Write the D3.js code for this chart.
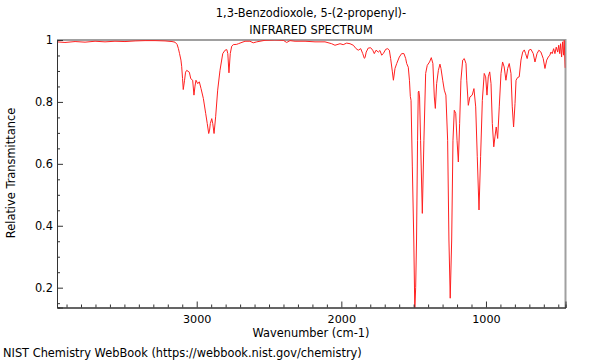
<!DOCTYPE html>
<html><head><meta charset="utf-8">
<script src="https://cdn.jsdelivr.net/npm/d3@7"></script>
<style>body{margin:0;background:#fff}svg{display:block;font-family:"DejaVu Sans",sans-serif}</style>
</head><body>
<svg id="c" width="600" height="360"></svg>
<script>
const titleLines = ["1,3-Benzodioxole, 5-(2-propenyl)-", "INFRARED SPECTRUM"];
const xLabel = "Wavenumber (cm-1)";
const yLabel = "Relative Transmittance";
const footer = "NIST Chemistry WebBook (https://webbook.nist.gov/chemistry)";
const xTicks = [3000, 2000, 1000];
const yTicks = [0.2, 0.4, 0.6, 0.8, 1];

const wavenumber = [3966,3911,3841,3772,3703,3634,3565,3496,3426,3357,3288,3219,3171,3150,3136,3127,3119,3109,3104,3098,3093,3084,3077,3069,3060,3051,3041,3028,3019,3012,3005,2993,2982,2970,2954,2938,2927,2917,2911,2906,2896,2889,2880,2869,2855,2839,2820,2804,2792,2785,2777,2768,2758,2747,2723,2712,2666,2632,2609,2585,2528,2459,2401,2378,2355,2320,2251,2182,2113,2067,2044,2009,1987,1963,1940,1917,1898,1883,1866,1852,1841,1836,1828,1814,1797,1783,1772,1760,1744,1733,1721,1710,1693,1679,1668,1659,1647,1640,1629,1617,1599,1583,1567,1555,1548,1537,1529,1523,1518,1509,1499,1492,1486,1480,1473,1468,1464,1459,1452,1440,1429,1417,1406,1390,1378,1367,1357,1350,1341,1329,1318,1311,1299,1288,1277,1265,1256,1247,1237,1228,1219,1209,1200,1191,1182,1173,1161,1150,1138,1133,1122,1111,1095,1083,1071,1060,1048,1037,1025,1012,1002,993,984,974,965,956,946,938,929,919,908,896,885,874,862,850,839,827,818,809,799,792,781,770,758,746,735,726,715,703,689,673,661,647,634,620,604,592,580,569,558,551,542,532,523,514,504,497,490,484,477,470,463,459,452];
const transmittance = [0.994,0.992,0.995,0.993,0.996,0.994,0.996,0.995,0.997,0.998,0.998,0.997,0.995,0.993,0.986,0.973,0.957,0.935,0.915,0.876,0.840,0.870,0.896,0.902,0.899,0.896,0.875,0.870,0.822,0.851,0.870,0.859,0.865,0.843,0.811,0.763,0.730,0.698,0.709,0.730,0.746,0.730,0.698,0.752,0.838,0.902,0.956,0.967,0.969,0.956,0.894,0.956,0.980,0.985,0.986,0.988,0.996,0.996,0.991,0.994,0.999,1.0,0.999,0.992,0.998,0.996,0.996,0.994,0.994,0.988,0.983,0.988,0.985,0.990,0.988,0.983,0.972,0.967,0.972,0.956,0.941,0.943,0.961,0.974,0.975,0.967,0.956,0.967,0.961,0.966,0.951,0.956,0.970,0.972,0.967,0.940,0.897,0.870,0.908,0.924,0.945,0.956,0.956,0.940,0.924,0.912,0.870,0.818,0.805,0.590,0.354,0.128,0.200,0.354,0.676,0.832,0.835,0.816,0.676,0.440,0.676,0.892,0.918,0.929,0.943,0.924,0.816,0.779,0.859,0.902,0.922,0.908,0.870,0.838,0.822,0.676,0.354,0.166,0.354,0.676,0.773,0.763,0.676,0.606,0.730,0.870,0.935,0.940,0.924,0.870,0.789,0.816,0.822,0.843,0.784,0.623,0.451,0.623,0.805,0.892,0.881,0.822,0.881,0.897,0.859,0.730,0.655,0.687,0.719,0.682,0.784,0.892,0.929,0.913,0.870,0.908,0.924,0.892,0.784,0.719,0.795,0.870,0.879,0.881,0.935,0.961,0.968,0.956,0.940,0.967,0.970,0.956,0.929,0.956,0.967,0.961,0.940,0.908,0.935,0.945,0.951,0.961,0.956,0.972,0.956,0.977,0.961,0.983,0.956,0.988,0.945,0.994,0.951,0.999,0.910];

const svg = d3.select("#c");
const m = {l:57, r:565.5, t:40, b:307.5};
const x = d3.scaleLinear().domain([3966, 450]).range([m.l, m.r]);
const y = d3.scaleLinear().domain([0.136, 1]).range([m.b, m.t]);
const fs = 11.4;

svg.append("defs").append("clipPath").attr("id","clip").append("rect")
  .attr("x", m.l).attr("y", m.t).attr("width", m.r - m.l).attr("height", m.b - m.t);

// gray top/right border
svg.append("path").attr("d", `M${m.l},${m.t}H${m.r}V${m.b}`).attr("fill","none")
  .attr("stroke","#a0a0a0").attr("stroke-width",2);

// data line
const pts = wavenumber.map((w,i)=>[w, transmittance[i]]);
svg.append("path").datum(pts).attr("clip-path","url(#clip)")
  .attr("fill","none").attr("stroke","#ff2020").attr("stroke-width",1)
  .attr("d", d3.line().x(d=>x(d[0])).y(d=>y(d[1])));

// bottom axis
const minorX = d3.range(3900, 449, -100).filter(v => !xTicks.includes(v));
const gx = svg.append("g").attr("transform", `translate(0,${m.b})`);
gx.call(d3.axisBottom(x).tickValues(minorX).tickSize(-3).tickFormat(""));
gx.append("g").call(d3.axisBottom(x).tickValues(xTicks).tickSize(-6).tickFormat(d3.format("d")));
gx.selectAll(".domain").attr("stroke","#333");
gx.selectAll("line").attr("stroke","#333");
gx.selectAll("text").attr("y", 8).attr("dy","0.71em").attr("font-size",11.2).attr("fill","#000")
  .attr("font-family","DejaVu Sans");

// left axis
const minorY = d3.range(0.15, 1.0001, 0.05).map(v=>+v.toFixed(2)).filter(v => !yTicks.some(t=>Math.abs(t-v)<1e-6));
const gy = svg.append("g").attr("transform", `translate(${m.l},0)`);
gy.call(d3.axisLeft(y).tickValues(minorY).tickSize(-3).tickFormat(""));
gy.append("g").call(d3.axisLeft(y).tickValues(yTicks).tickSize(-6).tickFormat(d=>d===1?"1":d3.format(".1f")(d)));
gy.selectAll(".domain").attr("stroke","#333");
gy.selectAll("line").attr("stroke","#333");
gy.selectAll("text").attr("x", -4).attr("font-size",11.4).attr("fill","#000").attr("font-family","DejaVu Sans");

// titles
svg.selectAll("text.title").data(titleLines).enter().append("text").attr("class","title")
  .attr("x", 311).attr("y",(d,i)=>17 + i*17).attr("text-anchor","middle").attr("font-size",fs).text(d=>d);
svg.append("text").attr("x",311).attr("y",336.5).attr("text-anchor","middle").attr("font-size",fs).text(xLabel);
svg.append("text").attr("transform","translate(14.5,173) rotate(-90)").attr("text-anchor","middle").attr("font-size",fs).text(yLabel);
svg.append("text").attr("x",3).attr("y",357).attr("font-size",fs).text(footer);
</script>
</body></html>
